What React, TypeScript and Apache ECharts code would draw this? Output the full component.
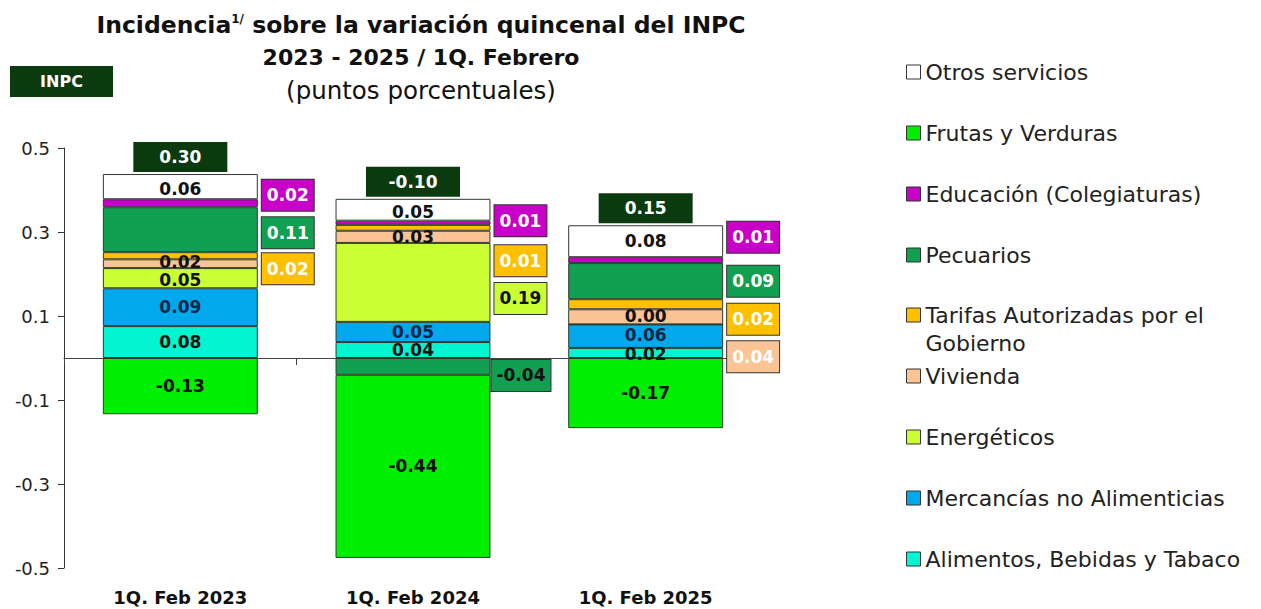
import React, { useEffect, useRef } from 'react';
import * as echarts from 'echarts';

const FONT = 'DejaVu Sans';

const categories = ['1Q. Feb 2023', '1Q. Feb 2024', '1Q. Feb 2025'];
const alimentos = [0.076, 0.038, 0.024];
const mercancias = [0.09, 0.048, 0.056];
const energeticos = [0.048, 0.188, 0.0];
const vivienda = [0.021, 0.029, 0.036];
const tarifas = [0.017, 0.014, 0.024];
const pecuarios = [0.107, -0.04, 0.086];
const educacion = [0.019, 0.01, 0.014];
const otros = [0.06, 0.052, 0.076];
const frutas = [-0.134, -0.436, -0.167];
const yTickValues = [-0.5, -0.3, -0.1, 0.1, 0.3, 0.5];

const legendTop = ['Otros servicios', 'Frutas y Verduras', 'Educación (Colegiaturas)', 'Pecuarios'];
const legendMid = ['Tarifas Autorizadas por el Gobierno'];
const legendBottom = ['Vivienda', 'Energéticos', 'Mercancías no Alimenticias', 'Alimentos, Bebidas y Tabaco'];

type Def = { name: string; data: number[]; color: string; text: string };
const defs: Def[] = [
  { name: 'Alimentos, Bebidas y Tabaco', data: alimentos, color: '#00f5d0', text: '#111' },
  { name: 'Mercancías no Alimenticias', data: mercancias, color: '#00a8ec', text: '#0b2447' },
  { name: 'Energéticos', data: energeticos, color: '#ccff33', text: '#111' },
  { name: 'Vivienda', data: vivienda, color: '#fac495', text: '#111' },
  { name: 'Tarifas Autorizadas por el Gobierno', data: tarifas, color: '#ffc000', text: '#111' },
  { name: 'Pecuarios', data: pecuarios, color: '#11a052', text: '#111' },
  { name: 'Educación (Colegiaturas)', data: educacion, color: '#c800c8', text: '#fff' },
  { name: 'Otros servicios', data: otros, color: '#ffffff', text: '#111' },
  { name: 'Frutas y Verduras', data: frutas, color: '#00ee00', text: '#111' },
];

// label layout (positions / styles only)
type Out = { dx?: number; dy: number; color: string } | null;
const outside: Record<string, Out[]> = {
  'Educación (Colegiaturas)': [{ dy: -8, color: '#fff' }, { dy: -2, color: '#fff' }, { dy: -23, color: '#fff' }],
  'Pecuarios': [{ dy: 3, color: '#fff' }, { dy: 9, dx: -3, color: '#111' }, { dy: 0, color: '#fff' }],
  'Tarifas Autorizadas por el Gobierno': [{ dy: 13, color: '#fff' }, { dy: 33, color: '#fff' }, { dy: 15, color: '#fff' }],
  'Vivienda': [null, null, { dy: 40, color: '#fff' }],
  'Energéticos': [null, { dy: 16, color: '#111' }, null],
};
const insideDy: Record<string, number[]> = {
  'Energéticos': [2, 0, -8],
  'Otros servicios': [2, 2, 0],
  'Vivienda': [-2, 0, 0],
  'Mercancías no Alimenticias': [0, 0, -1],
  'Alimentos, Bebidas y Tabaco': [0, 0, 1],
};

export default function App() {
  const ref = useRef<HTMLDivElement>(null);
  useEffect(() => {
    if (!ref.current) return;
    const chart = echarts.init(ref.current, null, { renderer: 'svg' });

    const inpc = categories.map((_, i) => defs.reduce((s, d) => s + d.data[i], 0));
    const posTop = categories.map((_, i) => defs.reduce((s, d) => s + Math.max(0, d.data[i]), 0));

    const barSeries = defs.map((d) => ({
      type: 'bar',
      name: d.name,
      stack: 'total',
      barWidth: '66.6%',
      xAxisIndex: 0,
      yAxisIndex: 0,
      itemStyle: { color: d.color, borderColor: '#2e3a2e', borderWidth: 1 },
      label: { formatter: (p: any) => Number(p.value).toFixed(2) },
      data: d.data.map((v, i) => {
        const o = outside[d.name]?.[i];
        const label = o
          ? {
              show: true,
              position: 'right',
              distance: 4,
              offset: [o.dx ?? 0, o.dy],
              backgroundColor: d.color,
              borderColor: '#333',
              borderWidth: 1,
              padding: [6, 5, 6, 5],
              color: o.color,
              fontFamily: FONT,
              fontWeight: 'bold',
              fontSize: 17,
              lineHeight: 19,
            }
          : {
              show: true,
              position: 'inside',
              offset: [0, insideDy[d.name]?.[i] ?? 0],
              color: d.text,
              fontFamily: FONT,
              fontWeight: 'bold',
              fontSize: 17,
            };
        return { value: v, label };
      }),
    }));

    const legendCommon: any = {
      orient: 'vertical',
      left: 906,
      itemWidth: 14,
      itemHeight: 14,
      itemGap: 33,
      padding: 0,
      icon: 'rect',
      selectedMode: false,
      itemStyle: { borderColor: '#333', borderWidth: 1 },
      textStyle: { fontFamily: FONT, fontSize: 22, color: '#222', lineHeight: 28 },
    };

    chart.setOption({
      animation: false,
      backgroundColor: '#fff',
      title: {
        left: 421,
        top: 9,
        padding: 0,
        textAlign: 'center',
        text:
          '{b|Incidencia}{sup|1/}{b| sobre la variación quincenal del INPC}\n{c|2023 - 2025 / 1Q. Febrero}\n{r|(puntos porcentuales)}',
        textStyle: {
          rich: {
            b: { fontFamily: FONT, fontSize: 23.5, fontWeight: 'bold', color: '#111', lineHeight: 32 },
            sup: { fontFamily: FONT, fontSize: 12, fontWeight: 'bold', color: '#111', lineHeight: 32, padding: [0, 0, 12, 0] },
            c: { fontFamily: FONT, fontSize: 22, fontWeight: 'bold', color: '#111', lineHeight: 32 },
            r: { fontFamily: FONT, fontSize: 24.5, fontWeight: 'normal', color: '#111', lineHeight: 34 },
          },
        },
      },
      graphic: [
        {
          type: 'group',
          left: 10,
          top: 66,
          children: [
            { type: 'rect', shape: { x: 0, y: 0, width: 103, height: 31 }, style: { fill: '#0b3a0f' } },
            {
              type: 'text',
              x: 51.5,
              y: 15.5,
              style: { text: 'INPC', fill: '#fff', fontFamily: FONT, fontSize: 16, fontWeight: 'bold', align: 'center', verticalAlign: 'middle' },
            },
          ],
        },
      ],
      legend: [
        { ...legendCommon, top: 58, data: legendTop },
        {
          ...legendCommon,
          top: 273,
          data: legendMid,
          formatter: () => ' \nTarifas Autorizadas por el\nGobierno',
        },
        { ...legendCommon, top: 362, data: legendBottom },
      ],
      grid: { left: 64, right: 499, top: 148, bottom: 41 },
      xAxis: [
        {
          type: 'category',
          data: categories,
          position: 'bottom',
          axisLine: { show: false, onZero: false },
          axisTick: { show: false },
          axisLabel: { fontFamily: FONT, fontWeight: 'bold', fontSize: 18, color: '#111', margin: 20 },
        },
        {
          type: 'category',
          data: categories,
          position: 'top',
          axisLine: { show: true, onZero: true, lineStyle: { color: '#444', width: 1 } },
          axisTick: { show: true, inside: true, length: 7, lineStyle: { color: '#444' } },
          axisLabel: { show: false },
        },
      ],
      yAxis: {
        type: 'value',
        min: -0.5,
        max: 0.5,
        splitLine: { show: false },
        axisLine: { show: true, lineStyle: { color: '#333', width: 1 } },
        axisTick: { show: true, length: 6, customValues: yTickValues, lineStyle: { color: '#333' } },
        axisLabel: {
          customValues: yTickValues,
          formatter: (v: number) => v.toFixed(1),
          fontFamily: FONT,
          fontSize: 18,
          color: '#222',
          margin: 14,
        },
      },
      series: [
        ...barSeries,
        {
          type: 'scatter',
          name: 'INPC',
          xAxisIndex: 0,
          yAxisIndex: 0,
          silent: true,
          z: 10,
          symbol: 'rect',
          symbolSize: [94, 30],
          symbolOffset: [0, -17],
          itemStyle: { color: '#0b3a0f', opacity: 1 },
          label: {
            show: true,
            position: 'inside',
            formatter: (p: any) => inpc[p.dataIndex].toFixed(2),
            color: '#fff',
            fontFamily: FONT,
            fontWeight: 'bold',
            fontSize: 17,
          },
          data: posTop.map((v, i) => [i, v]),
        },
      ],
    });

    return () => chart.dispose();
  }, []);

  return (
    <div
      ref={ref}
      style={{ position: 'absolute', left: 0, top: 0, width: 1261, height: 609, background: '#fff' }}
    />
  );
}
